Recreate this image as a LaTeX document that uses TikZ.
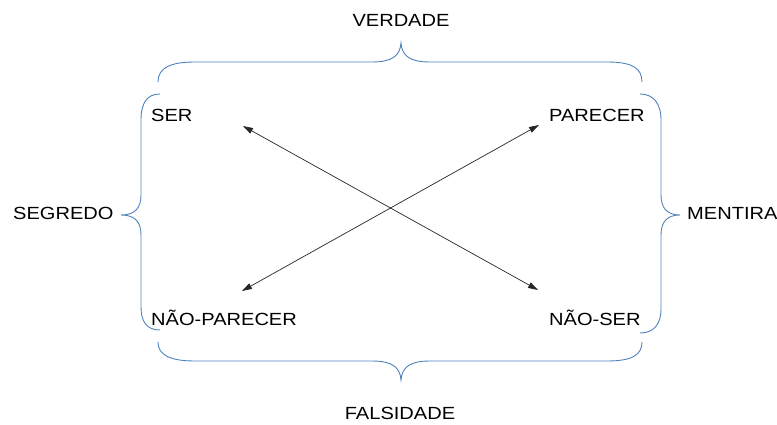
\documentclass[tikz,border=0pt]{standalone}
\usepackage{fontspec}
\setmainfont{Liberation Sans}[FakeStretch=1.14]
\usetikzlibrary{arrows.meta}
\definecolor{braceblue}{RGB}{79,129,189}
\begin{document}
\begin{tikzpicture}[x=1pt,y=-1pt,
  lbl/.style={inner sep=0pt,font=\fontsize{17.6}{20}\selectfont},
  bracestyle/.style={draw=braceblue,line width=0.9pt},
  dbl/.style={draw=black!85,line width=0.7pt,{Triangle[length=10pt,width=6pt]}-{Triangle[length=10pt,width=6pt]}}]
\useasboundingbox (0,0) rectangle (777,425);
% labels
\node[lbl,anchor=base] (verdade) at (401,27) {VERDADE};
\node[lbl,anchor=base] (falsidade) at (400,419) {FALSIDADE};
\node[lbl,anchor=base west] (segredo) at (13,219) {SEGREDO};
\node[lbl,anchor=base west] (mentira) at (687,219) {MENTIRA};
\node[lbl,anchor=base west] (ser) at (151,122) {SER};
\node[lbl,anchor=base west] (parecer) at (549,122) {PARECER};
\node[lbl,anchor=base west] (naoparecer) at (151,325) {NÃO-PARECER};
\node[lbl,anchor=base west] (naoser) at (549,325) {NÃO-SER};
% arrow end points
\coordinate (a1) at (243,126);
\coordinate (a2) at (538,290);
\coordinate (b1) at (242,291);
\coordinate (b2) at (539,125);
\draw[dbl] (a1) -- (a2);
\draw[dbl] (b1) -- (b2);
% top brace
\draw[bracestyle] (158,82) .. controls (158,68) and (170,62) .. (195,62) -- (372,62)
  .. controls (392,62) and (400,56) .. (401,43)
  .. controls (402,56) and (410,62) .. (430,62) -- (607,62)
  .. controls (632,62) and (642,68) .. (642,82);
% bottom brace
\draw[bracestyle] (158,342) .. controls (158,355) and (170,361) .. (195,361) -- (372,361)
  .. controls (392,361) and (400,367) .. (401,380)
  .. controls (402,367) and (410,361) .. (430,361) -- (607,361)
  .. controls (632,361) and (642,355) .. (642,342);
% left brace
\draw[bracestyle] (160,94) .. controls (147,94) and (141,103) .. (141,120) -- (141,195)
  .. controls (141,208) and (135,215) .. (121,215)
  .. controls (135,215) and (141,222) .. (141,235) -- (141,307)
  .. controls (141,322) and (147,330) .. (160,330);
% right brace
\draw[bracestyle] (640,94) .. controls (653,94) and (661,103) .. (661,120) -- (661,195)
  .. controls (661,208) and (667,215) .. (680,215)
  .. controls (667,215) and (661,222) .. (661,235) -- (661,309)
  .. controls (661,325) and (653,333) .. (640,333);
\end{tikzpicture}
\end{document}
